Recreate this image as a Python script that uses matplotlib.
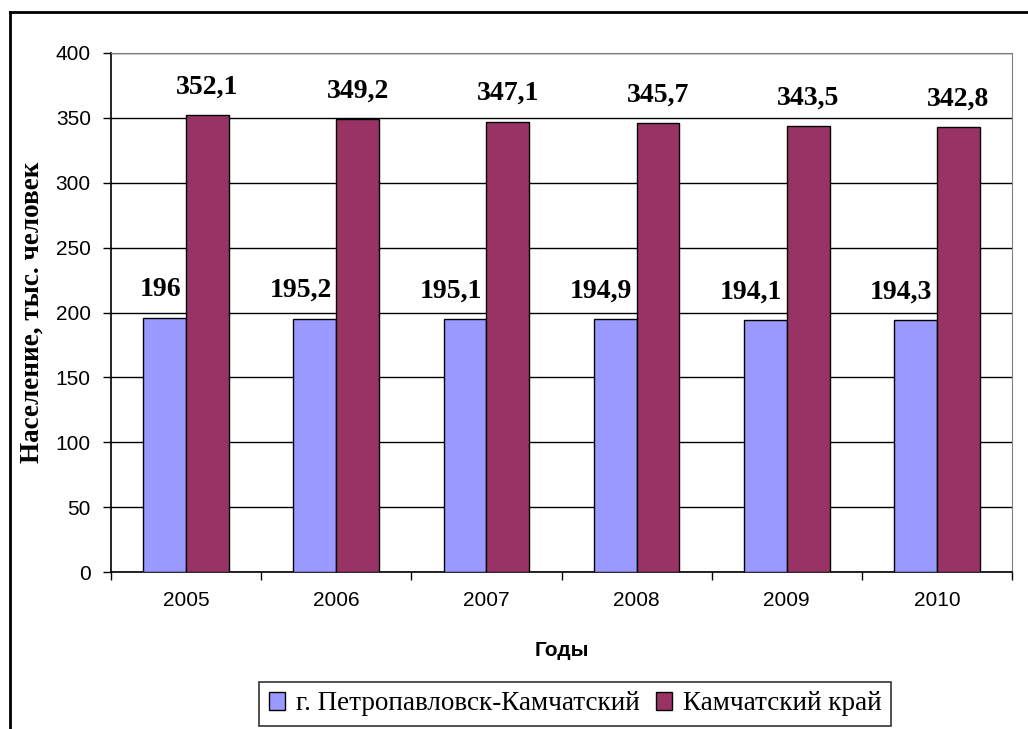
import matplotlib.pyplot as plt
import numpy as np
from matplotlib.lines import Line2D

years = ['2005', '2006', '2007', '2008', '2009', '2010']
city = [196, 195.2, 195.1, 194.9, 194.1, 194.3]
region = [352.1, 349.2, 347.1, 345.7, 343.5, 342.8]
city_labels = ['196', '195,2', '195,1', '194,9', '194,1', '194,3']
region_labels = ['352,1', '349,2', '347,1', '345,7', '343,5', '342,8']
series_names = ['г. Петропавловск-Камчатский', 'Камчатский край']

W, H = 1028, 729
fig = plt.figure(figsize=(W / 100, H / 100), dpi=100)
ax = fig.add_axes([111 / W, 1 - 572 / H, (1012 - 111) / W, (572 - 53) / H])

x = np.arange(len(years))
w = 0.285
b1 = ax.bar(x - w / 2, city, w, color='#9999FF', edgecolor='black', linewidth=1, zorder=3,
            label=series_names[0])
b2 = ax.bar(x + w / 2, region, w, color='#993366', edgecolor='black', linewidth=1, zorder=3,
            label=series_names[1])

serif = ['Liberation Serif', 'DejaVu Serif']
sans = ['Liberation Sans', 'DejaVu Sans']

for i in range(len(years)):
    ax.text(x[i] - 0.03, city[i] + 12, city_labels[i], ha='right', va='bottom',
            fontsize=20, fontweight='bold', family=serif, zorder=4)
    ax.text(x[i] + w / 2, region[i] + 12, region_labels[i], ha='center', va='bottom',
            fontsize=20, fontweight='bold', family=serif, zorder=4)

ax.set_xlim(-0.5, len(years) - 0.5)
ax.set_ylim(0, 400)
ax.set_yticks(range(0, 401, 50))
ax.yaxis.grid(True, color='black', linewidth=1, zorder=0)
ax.set_xticks(x)
ax.set_xticklabels(years, family=sans, fontsize=15)
ax.set_xticks(np.arange(-0.5, len(years)), minor=True)
ax.tick_params(axis='x', which='major', length=0, pad=14)
ax.tick_params(axis='x', which='minor', length=6, width=1, direction='out')
ax.tick_params(axis='y', length=6, width=1, direction='out', pad=8.5)
for lab in ax.get_yticklabels():
    lab.set_family(sans)
    lab.set_fontsize(15)

for s in ['top', 'right']:
    ax.spines[s].set_color('#808080')
for s in ['left', 'bottom']:
    ax.spines[s].set_color('black')
    ax.spines[s].set_linewidth(1.2)

ax.set_ylabel('Население, тыс. человек', family=serif, fontsize=19.5, fontweight='bold', labelpad=8)
ax.set_xlabel('Годы', family=sans, fontsize=15, fontweight='bold', labelpad=22)

leg = fig.legend(handles=[b1, b2], loc='center', bbox_to_anchor=(575 / W, 1 - 704 / H), ncol=2,
                 frameon=True, fancybox=False, edgecolor='black', prop={'family': serif, 'size': 19.5},
                 handlelength=0.6, handleheight=0.6, handletextpad=0.4, columnspacing=0.6,
                 borderpad=0.35, borderaxespad=0)
leg.get_frame().set_linewidth(1.2)

# outer frame (left and top edges)
fig.add_artist(Line2D([10 / W, 10 / W], [0, 1 - 12 / H], color='black', linewidth=2, transform=fig.transFigure))
fig.add_artist(Line2D([10 / W, 1], [1 - 12 / H, 1 - 12 / H], color='black', linewidth=2, transform=fig.transFigure))

fig.savefig('out.png', dpi=100)
